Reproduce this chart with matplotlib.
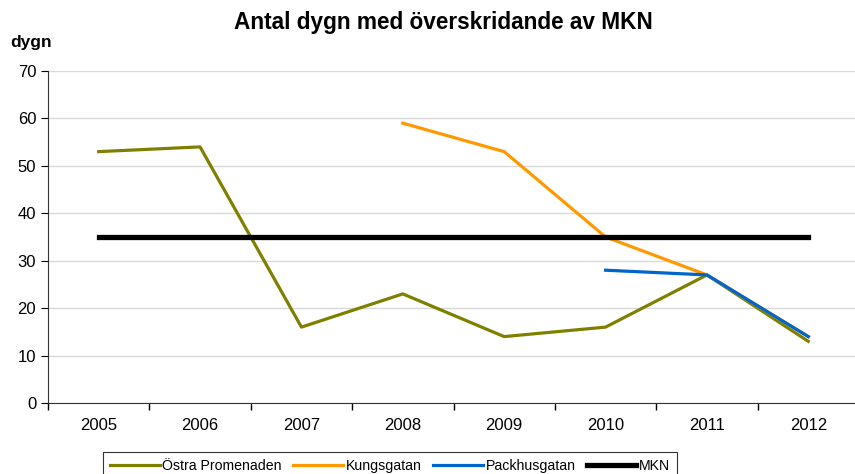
import numpy as np
import matplotlib
matplotlib.use('Agg')
import matplotlib.pyplot as plt

years = ['2005', '2006', '2007', '2008', '2009', '2010', '2011', '2012']
ostra = [53, 54, 16, 23, 14, 16, 27, 13]
kungsgatan = [np.nan, np.nan, np.nan, 59, 53, 35, 27, 14]
packhusgatan = [np.nan, np.nan, np.nan, np.nan, np.nan, 28, 27, 14]
mkn = [35, 35, 35, 35, 35, 35, 35, 35]

plt.rcParams['font.family'] = ['Liberation Sans', 'DejaVu Sans']

fig = plt.figure(figsize=(8.55, 4.74), dpi=100)
ax = fig.add_axes([48/855, 71/474, 811/855, 332/474])
x = np.arange(len(years))

ax.plot(x, ostra, color='#808000', lw=2.3, label='Östra Promenaden')
ax.plot(x, kungsgatan, color='#FF9900', lw=2.3, label='Kungsgatan')
ax.plot(x, packhusgatan, color='#0066CC', lw=2.3, label='Packhusgatan')
ax.plot(x, mkn, color='black', lw=3.8, label='MKN')

ax.set_xlim(-0.5, 7.5)
ax.set_ylim(0, 70)
ax.set_yticks(range(0, 71, 10))
ax.set_xticks(x)
ax.set_xticklabels(years)
ax.set_xticks(np.arange(-0.5, 8, 1), minor=True)
ax.tick_params(axis='x', which='major', length=0, pad=11, labelsize=12)
ax.tick_params(axis='x', which='minor', length=5, direction='out', width=1)
ax.tick_params(axis='y', length=5, direction='out', labelsize=12)
ax.grid(axis='y', color='#d9d9d9', lw=1)
ax.set_axisbelow(True)
for s in ['top', 'right']:
    ax.spines[s].set_visible(False)
ax.spines['left'].set_color('#333333')
ax.spines['bottom'].set_color('#333333')

fig.text(0.518, 0.953, 'Antal dygn med överskridande av MKN', ha='center', va='center',
         fontsize=16.3, fontweight='bold')
fig.text(0.012, 0.91, 'dygn', ha='left', va='center', fontsize=12.5, fontweight='bold')

leg = fig.legend(loc='lower left', bbox_to_anchor=(103/855, -6/474), ncol=4, frameon=True,
                 fancybox=False, edgecolor='black', fontsize=10.2, handlelength=3.5,
                 handletextpad=0.2, columnspacing=0.8, borderpad=0.5, borderaxespad=0)
leg.get_frame().set_linewidth(0.8)

fig.savefig('out.png', dpi=100)
